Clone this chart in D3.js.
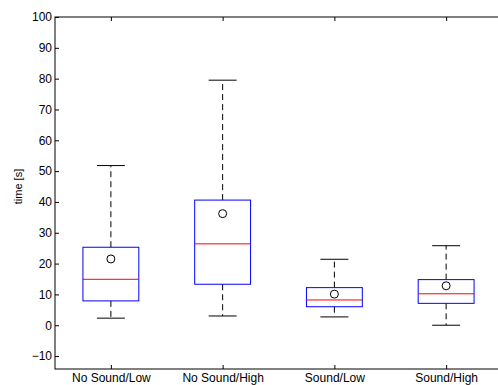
<!DOCTYPE html>
<html>
<head>
<meta charset="utf-8">
<script src="https://cdn.jsdelivr.net/npm/d3@7"></script>
<style>
  body { margin: 0; background: #fff; }
  svg { display: block; font-family: "Liberation Sans", Arial, sans-serif; }
</style>
</head>
<body>
<script>
const categories = ["No Sound/Low", "No Sound/High", "Sound/Low", "Sound/High"];
const whiskerLow = [2.3, 3.0, 2.7, 0.0];
const q1 = [7.9, 13.3, 6.0, 7.1];
const median = [14.9, 26.4, 8.2, 10.2];
const q3 = [25.3, 40.6, 12.2, 14.8];
const whiskerHigh = [51.8, 79.5, 21.4, 25.8];
const means = [21.5, 36.2, 10.1, 12.8];
const yTicks = [-10, 0, 10, 20, 30, 40, 50, 60, 70, 80, 90, 100];

const width = 498;
const height = 385;
const plotLeft = 55, plotTop = 17, plotRight = 502, plotBottom = 369;

const svg = d3.select("body").append("svg")
  .attr("width", width)
  .attr("height", height);

const x = d3.scaleLinear().domain([0.5, 4.5]).range([plotLeft, plotRight]);
const y = d3.scaleLinear().domain([-14.2, 100]).range([plotBottom, plotTop]);

const data = categories.map((c, i) => ({
  name: c, pos: i + 1,
  lo: whiskerLow[i], q1: q1[i], med: median[i], q3: q3[i], hi: whiskerHigh[i], mean: means[i]
}));

const boxW = x(1.25) - x(1);     // half box width
const capW = x(1.125) - x(1);    // half cap width

const g = svg.selectAll("g.box").data(data).enter().append("g").attr("class", "box");

// whiskers (dashed)
g.append("line")
  .attr("x1", d => x(d.pos)).attr("x2", d => x(d.pos))
  .attr("y1", d => y(d.q3)).attr("y2", d => y(d.hi))
  .attr("stroke", "#000").attr("stroke-dasharray", "6,4");
g.append("line")
  .attr("x1", d => x(d.pos)).attr("x2", d => x(d.pos))
  .attr("y1", d => y(d.q1)).attr("y2", d => y(d.lo))
  .attr("stroke", "#000").attr("stroke-dasharray", "6,4");

// caps
g.append("line")
  .attr("x1", d => x(d.pos) - capW).attr("x2", d => x(d.pos) + capW)
  .attr("y1", d => y(d.hi)).attr("y2", d => y(d.hi))
  .attr("stroke", "#000");
g.append("line")
  .attr("x1", d => x(d.pos) - capW).attr("x2", d => x(d.pos) + capW)
  .attr("y1", d => y(d.lo)).attr("y2", d => y(d.lo))
  .attr("stroke", "#000");

// box
g.append("rect")
  .attr("x", d => x(d.pos) - boxW)
  .attr("y", d => y(d.q3))
  .attr("width", 2 * boxW)
  .attr("height", d => y(d.q1) - y(d.q3))
  .attr("fill", "none")
  .attr("stroke", "#0000ff");

// median
g.append("line")
  .attr("x1", d => x(d.pos) - boxW).attr("x2", d => x(d.pos) + boxW)
  .attr("y1", d => y(d.med)).attr("y2", d => y(d.med))
  .attr("stroke", "#ff0000");

// mean
g.append("circle")
  .attr("cx", d => x(d.pos)).attr("cy", d => y(d.mean))
  .attr("r", 4)
  .attr("fill", "none")
  .attr("stroke", "#000");

// axes, ticks pointing inward
const yAxis = d3.axisLeft(y).tickValues(yTicks).tickSizeInner(-4).tickSizeOuter(0).tickPadding(3);
const yAxisR = d3.axisRight(y).tickValues(yTicks).tickSizeInner(-4).tickSizeOuter(0).tickFormat("");
const xAxis = d3.axisBottom(x).tickValues([1, 2, 3, 4]).tickSizeInner(-4).tickSizeOuter(0).tickPadding(4)
  .tickFormat(d => categories[d - 1]);
const xAxisT = d3.axisTop(x).tickValues([1, 2, 3, 4]).tickSizeInner(-4).tickSizeOuter(0).tickFormat("");

svg.append("g").attr("transform", `translate(${plotLeft},0)`).call(yAxis)
  .call(s => s.selectAll("text").attr("font-size", "12px").attr("fill", "#000"));
svg.append("g").attr("transform", `translate(${plotRight},0)`).call(yAxisR);
svg.append("g").attr("transform", `translate(0,${plotBottom})`).call(xAxis)
  .call(s => s.selectAll("text").attr("font-size", "12px").attr("fill", "#000"));
svg.append("g").attr("transform", `translate(0,${plotTop})`).call(xAxisT);

svg.selectAll(".domain").remove();
svg.append("rect")
  .attr("x", plotLeft).attr("y", plotTop)
  .attr("width", plotRight - plotLeft).attr("height", plotBottom - plotTop)
  .attr("fill", "none").attr("stroke", "#000");

svg.append("text")
  .attr("transform", `translate(19,${(y(50) + y(40)) / 2}) rotate(-90)`)
  .attr("text-anchor", "middle")
  .attr("dominant-baseline", "middle")
  .attr("font-size", "11px")
  .text("time [s]");
</script>
</body>
</html>
